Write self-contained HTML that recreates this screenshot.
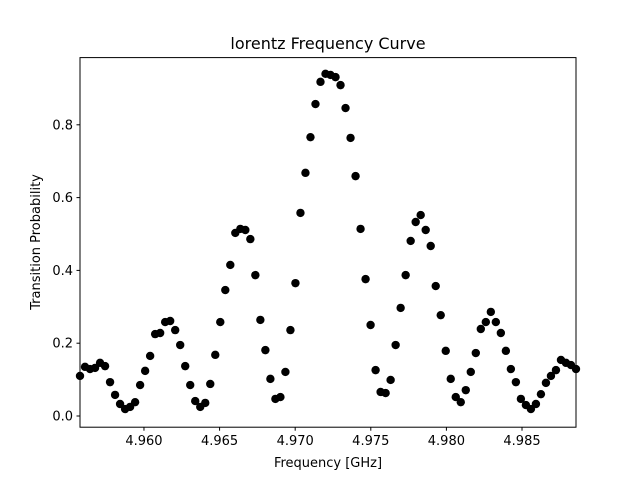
<!DOCTYPE html>
<html><head><meta charset="utf-8"><style>
body{margin:0;background:#fff;}
svg{display:block;font-family:"DejaVu Sans","Liberation Sans",sans-serif;}
</style></head><body>
<svg id="chart" width="640" height="480">
<rect x="0" y="0" width="640" height="480" fill="#fff"/>
<text x="328" y="49" font-size="16" text-anchor="middle">lorentz Frequency Curve</text>
<text x="328" y="467" font-size="13" text-anchor="middle">Frequency [GHz]</text>
<text transform="translate(40,242) rotate(-90)" font-size="13" text-anchor="middle">Transition Probability</text>
<g id="points"></g>
<g id="ticks"></g>
<rect x="80" y="57.6" width="496" height="369.6" fill="none" stroke="#000" stroke-width="1"/>
</svg>
<script>
const probs=[0.110,0.135,0.129,0.132,0.146,0.137,0.093,0.058,0.033,0.019,0.025,0.038,0.085,0.124,0.165,0.225,0.228,0.258,0.261,0.236,0.195,0.137,0.085,0.041,0.025,0.036,0.088,0.168,0.258,0.346,0.415,0.503,0.514,0.511,0.486,0.387,0.264,0.181,0.102,0.047,0.052,0.121,0.236,0.365,0.558,0.668,0.766,0.857,0.918,0.940,0.937,0.931,0.909,0.846,0.764,0.659,0.514,0.376,0.250,0.126,0.066,0.063,0.099,0.195,0.297,0.387,0.481,0.533,0.552,0.511,0.467,0.357,0.277,0.179,0.102,0.052,0.038,0.071,0.121,0.173,0.239,0.258,0.286,0.258,0.228,0.179,0.129,0.093,0.047,0.030,0.019,0.033,0.060,0.091,0.110,0.126,0.154,0.146,0.140,0.129];
const freqStart=4.95577, freqEnd=4.98857;
const xTicks=[4.960,4.965,4.970,4.975,4.980,4.985];
const xTickLabels=["4.960","4.965","4.970","4.975","4.980","4.985"];
const yTicks=[0,0.2,0.4,0.6,0.8];
const yTickLabels=["0.0","0.2","0.4","0.6","0.8"];
const NS="http://www.w3.org/2000/svg";
const xs=f=>80+(f-freqStart)/(freqEnd-freqStart)*496;
const ys=v=>416-v*364;
const pg=document.getElementById('points');
const n=probs.length;
probs.forEach((p,i)=>{
  const f=freqStart+(freqEnd-freqStart)*i/(n-1);
  const c=document.createElementNS(NS,'circle');
  c.setAttribute('cx',xs(f));c.setAttribute('cy',ys(p));c.setAttribute('r',4.2);c.setAttribute('fill','#000');
  
  
  pg.appendChild(c);
});
const tg=document.getElementById('ticks');
xTicks.forEach((t,i)=>{
  const x=xs(t);
  const l=document.createElementNS(NS,'line');
  l.setAttribute('x1',x);l.setAttribute('x2',x);l.setAttribute('y1',427.2);l.setAttribute('y2',430.7);l.setAttribute('stroke','#000');
  
  
  tg.appendChild(l);
  const tx=document.createElementNS(NS,'text');
  tx.setAttribute('x',x);tx.setAttribute('y',445);tx.setAttribute('font-size','13');tx.setAttribute('text-anchor','middle');
  tx.textContent=xTickLabels[i];
  
  
  tg.appendChild(tx);
});
yTicks.forEach((t,i)=>{
  const y=ys(t);
  const l=document.createElementNS(NS,'line');
  l.setAttribute('x1',76.5);l.setAttribute('x2',80);l.setAttribute('y1',y);l.setAttribute('y2',y);l.setAttribute('stroke','#000');
  
  
  tg.appendChild(l);
  const tx=document.createElementNS(NS,'text');
  tx.setAttribute('x',73);tx.setAttribute('y',y+4.5);tx.setAttribute('font-size','13');tx.setAttribute('text-anchor','end');
  tx.textContent=yTickLabels[i];
  
  
  tg.appendChild(tx);
});
</script>
</body></html>
